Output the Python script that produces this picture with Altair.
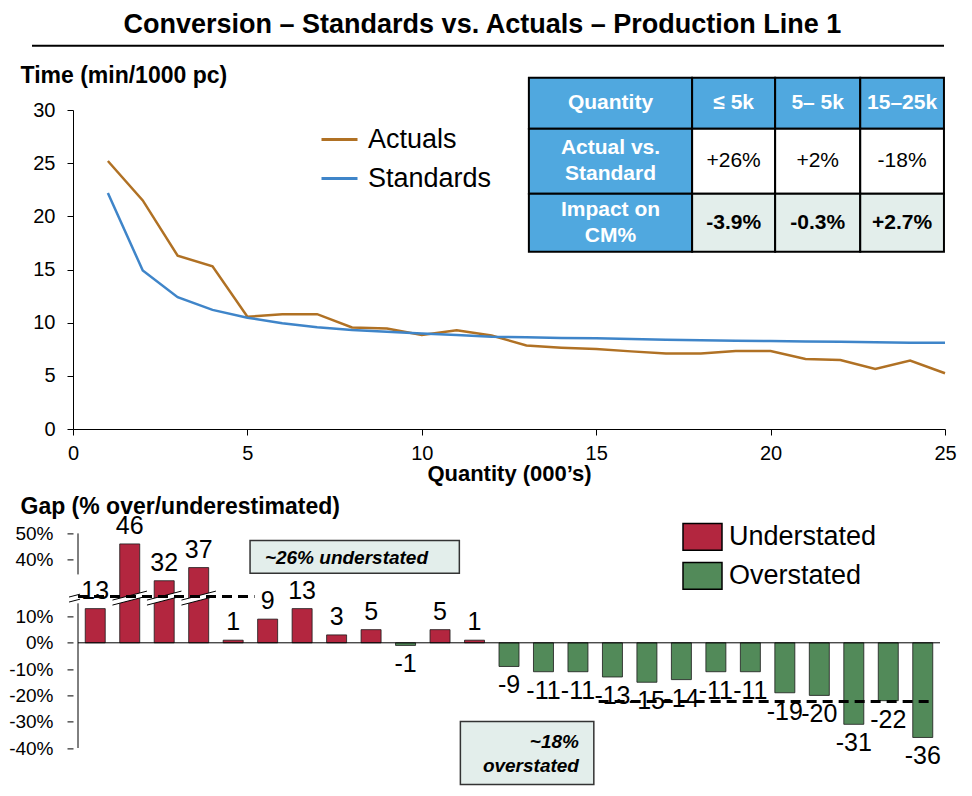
import altair as alt
import pandas as pd

# ---------------- values ----------------
quantity = list(range(1, 26))
actuals = [25.2, 21.5, 16.3, 15.3, 10.55, 10.8, 10.8, 9.55, 9.45, 8.85,
           9.28, 8.8, 7.85, 7.65, 7.52, 7.3, 7.1, 7.1, 7.33, 7.33,
           6.58, 6.49, 5.64, 6.43, 5.24]
standards = [22.2, 14.9, 12.4, 11.2, 10.47, 9.94, 9.56, 9.31, 9.15, 8.97,
             8.84, 8.68, 8.62, 8.56, 8.53, 8.46, 8.4, 8.34, 8.3, 8.28,
             8.24, 8.21, 8.15, 8.12, 8.12]
series_names = ["Actuals", "Standards"]

gap_pct = [13, 46, 32, 37, 1, 9, 13, 3, 5, -1, 5, 1,
           -9, -11, -11, -13, -15, -14, -11, -11, -19, -20, -31, -22, -36]
gap_kinds = ["Understated", "Overstated"]

table_header = ["Quantity", "≤ 5k", "5– 5k", "15–25k"]
table_row_labels = ["Actual vs.\nStandard", "Impact on\nCM%"]
actual_vs_standard = ["+26%", "+2%", "-18%"]
impact_on_cm = ["-3.9%", "-0.3%", "+2.7%"]

top_x_ticks = [0, 5, 10, 15, 20, 25]
top_y_ticks = [0, 5, 10, 15, 20, 25, 30]
gap_ticks = [50, 40, 10, 0, -10, -20, -30, -40]

notes = ["~26% understated", "~18%\noverstated"]
note_levels = [26, -22.3]

TITLE = "Conversion – Standards vs. Actuals – Production Line 1"

# ---------------- styling / layout ----------------
FONT = "Liberation Sans, Arial, Helvetica, sans-serif"
TITLE_FONT = "Liberation Sans Narrow, Arial Narrow, Liberation Sans, sans-serif"
BROWN = "#B07124"
BLUE = "#3F85C9"
RED = "#B3263F"
GREEN = "#528A59"
TBLUE = "#50A8DF"
SHADE = "#E3EEEB"

W = 872
H_TOP = 319
H_BOT = 214.6
SHIFT = 8.4      # amount removed by the axis break
BREAK_AT = 17.0  # display position of the break marks

# table edges expressed in the top chart's axis units
TABLE_X = [13.07, 17.75, 20.13, 22.57, 24.97]
TABLE_Y = [33.04, 28.24, 22.13, 16.67]


def disp(v):
    return v - SHIFT if v > 20 else v


DISP_EXPR = f"datum.gap > 20 ? datum.gap - {SHIFT} : datum.gap"

# ---------------- top chart ----------------
lines_df = pd.DataFrame({
    "quantity": quantity * 2,
    "series": [series_names[0]] * len(actuals) + [series_names[1]] * len(standards),
    "time": actuals + standards,
})

rows_text = [table_header,
             [table_row_labels[0]] + actual_vs_standard,
             [table_row_labels[1]] + impact_on_cm]
cells = []
for r, row in enumerate(rows_text):
    for c, txt in enumerate(row):
        kind = "head" if (r == 0 or c == 0) else ("plain" if r == 1 else "shade")
        cells.append(dict(text=txt, kind=kind, nlines=txt.count("\n") + 1,
                          x0=TABLE_X[c], x1=TABLE_X[c + 1],
                          y0=TABLE_Y[r], y1=TABLE_Y[r + 1],
                          xc=(TABLE_X[c] + TABLE_X[c + 1]) / 2,
                          yc=(TABLE_Y[r] + TABLE_Y[r + 1]) / 2))
cells_df = pd.DataFrame(cells)

xs_top = alt.Scale(domain=[0, 25], nice=False)
ys_top = alt.Scale(domain=[0, 30], nice=False)
ax_top_x = alt.Axis(values=top_x_ticks, grid=False, tickSize=6, tickColor="black",
                    domainColor="black", labelColor="black", labelFontSize=20,
                    labelPadding=8, labelFlush=False,
                    title="Quantity (000’s)", titleFontSize=22,
                    titleFontWeight="bold", titleColor="black", titlePadding=0)
ax_top_y = alt.Axis(values=top_y_ticks, grid=False, tickSize=6, tickColor="black",
                    domainColor="black", labelColor="black", labelFontSize=20,
                    labelPadding=12, labelFlush=False,
                    title="Time (min/1000 pc)", titleFontSize=23,
                    titleFontWeight="bold", titleColor="black", titleAngle=0,
                    titleAlign="left", titleBaseline="alphabetic",
                    titleX=-53, titleY=-27.6)


def TX(f):
    return alt.X(f, type="quantitative", scale=xs_top, axis=ax_top_x)


def TY(f):
    return alt.Y(f, type="quantitative", scale=ys_top, axis=ax_top_y)


lines = alt.Chart(lines_df).mark_line(strokeWidth=2.5).encode(
    x=TX("quantity"),
    y=TY("time"),
    color=alt.Color("series:N",
                    scale=alt.Scale(domain=series_names, range=[BROWN, BLUE]),
                    legend=alt.Legend(orient="none", legendX=247, legendY=10,
                                      title=None, symbolType="stroke",
                                      symbolSize=1296, symbolStrokeWidth=3,
                                      labelFontSize=27, labelOffset=9,
                                      rowPadding=6, labelColor="black")),
)


def table_rect(kind, fill):
    return alt.Chart(cells_df).transform_filter(f"datum.kind == '{kind}'").mark_rect(
        fill=fill, stroke="black", strokeWidth=2
    ).encode(x=TX("x0"), x2="x1", y=TY("y0"), y2="y1")


def table_text(kind, color, weight, nlines):
    return alt.Chart(cells_df).transform_filter(
        f"datum.kind == '{kind}' && datum.nlines == {nlines}"
    ).mark_text(
        color=color, fontWeight=weight, fontSize=21, lineBreak="\n", lineHeight=26,
        dy=-13 * (nlines - 1)
    ).encode(x=TX("xc"), y=TY("yc"), text="text:N")


underline = alt.Chart(alt.Data(values=[{"u": 1}])).mark_rule(
    color="black", strokeWidth=2
).encode(x=alt.value(-41), x2=alt.value(871), y=alt.value(-64.3))

top = alt.layer(
    lines,
    table_rect("head", TBLUE), table_rect("plain", "white"), table_rect("shade", SHADE),
    table_text("head", "white", "bold", 1), table_text("head", "white", "bold", 2),
    table_text("plain", "black", "normal", 1),
    table_text("shade", "black", "bold", 1),
    underline,
).properties(width=W, height=H_TOP)

# ---------------- bottom chart ----------------
gap_df = pd.DataFrame({"quantity": quantity, "gap": gap_pct})

xs_bot = alt.Scale(domain=[0, 25], nice=False)
ys_bot = alt.Scale(domain=[-40, 50 - SHIFT], nice=False, zero=False)
ax_bot_y = alt.Axis(values=[disp(v) for v in gap_ticks],
                    labelExpr=f"(datum.value > 20 ? round(datum.value + {SHIFT}) : round(datum.value)) + '%'",
                    domain=False, grid=False, tickSize=6, tickColor="black",
                    labelColor="black", labelFontSize=19, labelPadding=14,
                    labelFlush=False,
                    title="Gap (% over/underestimated)", titleFontSize=23,
                    titleFontWeight="bold", titleColor="black", titleAngle=0,
                    titleAlign="left", titleBaseline="alphabetic",
                    titleX=-53, titleY=-20)


def BX(f):
    return alt.X(f, type="quantitative", scale=xs_bot, axis=None)


def BY(f):
    return alt.Y(f, type="quantitative", scale=ys_bot, axis=ax_bot_y)


gap_base = alt.Chart(gap_df).transform_calculate(
    pos="datum.quantity - 0.5",
    disp=DISP_EXPR,
    kind="datum.gap > 0 ? 'Understated' : 'Overstated'",
    label="toString(datum.gap)",
)

bars = gap_base.mark_bar(size=20, orient="vertical", stroke="#1a1a1a", strokeWidth=0.8).encode(
    x=BX("pos"),
    y=BY("disp"),
    color=alt.Color("kind:N",
                    scale=alt.Scale(domain=gap_kinds, range=[RED, GREEN]),
                    legend=alt.Legend(orient="none", legendX=609, legendY=-17,
                                      title=None,
                                      symbolType="M-1,-0.69L1,-0.69L1,0.69L-1,0.69Z",
                                      symbolSize=1521, symbolStrokeColor="black",
                                      symbolStrokeWidth=1.5, labelFontSize=27,
                                      labelOffset=6, rowPadding=2,
                                      labelColor="black")),
)

lab_pos = gap_base.transform_filter("datum.gap > 0").mark_text(
    dy=-18, fontSize=25, color="black").encode(x=BX("pos"), y=BY("disp"), text="label:N")
lab_neg = gap_base.transform_filter("datum.gap < 0").mark_text(
    dy=19, fontSize=25, color="black").encode(x=BX("pos"), y=BY("disp"), text="label:N")

zero_df = pd.DataFrame({"x0": [0], "x1": [25], "y": [0]})
zero = alt.Chart(zero_df).mark_rule(color="black", strokeWidth=1).encode(
    x=BX("x0"), x2="x1", y=BY("y"))

axis_df = pd.DataFrame({"x": [0, 0], "y0": [50 - SHIFT, 15], "y1": [26, -40]})
axis_line = alt.Chart(axis_df).mark_rule(color="black", strokeWidth=1).encode(
    x=BX("x"), y=BY("y0"), y2="y1")

brk_centers = [-0.1] + [q - 0.5 for q, g in zip(quantity, gap_pct) if g > 20]
brk_half = [0.16] + [0.5] * (len(brk_centers) - 1)
brk_df = pd.DataFrame({
    "x0": [c - h for c, h in zip(brk_centers, brk_half)],
    "x1": [c + h for c, h in zip(brk_centers, brk_half)],
    "y0": [BREAK_AT - h * 3.42 for h in brk_half],
    "y1": [BREAK_AT + h * 3.42 for h in brk_half],
})
brk_white = alt.Chart(brk_df).mark_rule(color="white", strokeWidth=5).encode(
    x=BX("x0"), x2="x1", y=BY("y0"), y2="y1")
brk_a = alt.Chart(brk_df).mark_rule(color="black", strokeWidth=1, yOffset=-2.5, y2Offset=-2.5).encode(
    x=BX("x0"), x2="x1", y=BY("y0"), y2="y1")
brk_b = alt.Chart(brk_df).mark_rule(color="black", strokeWidth=1, yOffset=2.5, y2Offset=2.5).encode(
    x=BX("x0"), x2="x1", y=BY("y0"), y2="y1")

dash_df = pd.DataFrame({"x0": [0, 15.1], "x1": [5.12, 24.83], "level": note_levels})
dash = alt.Chart(dash_df).transform_calculate(
    disp=f"datum.level > 20 ? datum.level - {SHIFT} : datum.level"
).mark_rule(strokeDash=[10, 6], strokeWidth=3, color="black").encode(
    x=BX("x0"), x2="x1", y=BY("disp"))

note_df = pd.DataFrame({
    "text": notes,
    "bx0": [4.99, 11.09], "bx1": [11.06, 14.96],
    "by0": [38.9, -29.9], "by1": [26.4, -53.9],
    "tx": [5.42, 14.53], "ty": [32.4, -42.1],
    "side": ["left", "right"],
})
note_box = alt.Chart(note_df).mark_rect(fill=SHADE, stroke="#333333", strokeWidth=1.5).encode(
    x=BX("bx0"), x2="bx1", y=BY("by0"), y2="by1")
note_left = alt.Chart(note_df).transform_filter("datum.side == 'left'").mark_text(
    align="left", fontSize=19, fontWeight="bold", fontStyle="italic", color="black"
).encode(x=BX("tx"), y=BY("ty"), text="text:N")
note_right = alt.Chart(note_df).transform_filter("datum.side == 'right'").mark_text(
    align="right", fontSize=19, fontWeight="bold", fontStyle="italic", color="black",
    lineBreak="\n", lineHeight=24, dy=-12
).encode(x=BX("tx"), y=BY("ty"), text="text:N")

bottom = alt.layer(
    note_box, bars, zero, brk_white, brk_a, brk_b, dash, axis_line,
    lab_pos, lab_neg, note_left, note_right,
).properties(width=W, height=H_BOT)

chart = alt.vconcat(top, bottom, spacing=104.4, bounds="flush").resolve_scale(
    color="independent"
).properties(
    title=alt.TitleParams(text=TITLE, font=TITLE_FONT, fontSize=27, fontWeight="bold",
                          anchor="middle", offset=6, color="black"),
    padding={"left": 0, "top": 2, "right": 5, "bottom": 5},
).configure(font=FONT).configure_view(strokeWidth=0)

chart.save("out.html", embed_options={"renderer": "svg", "actions": False})
